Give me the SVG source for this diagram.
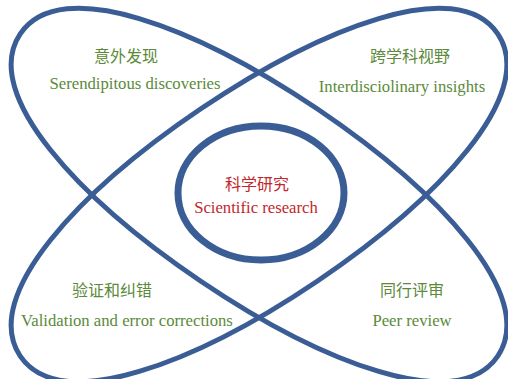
<svg xmlns="http://www.w3.org/2000/svg" width="508" height="379" viewBox="0 0 508 379">
<style>
.loop{fill:none;stroke:#3b5d96;stroke-width:5}
.core{fill:none;stroke:#3b5d96;stroke-width:7}
.zh{font-family:"Noto Sans CJK SC",sans-serif;font-size:16px;text-anchor:middle}
.en{font-family:"Liberation Serif",serif;font-size:16.7px;text-anchor:middle}
.g{fill:#5b8a3a}
.r{fill:#c1272d}
</style>
<defs>
<path id="lobe" d="M-288,0 C-288,-72.8 -144,-104 0,-104 C144,-104 288,-72.8 288,0 C288,72.8 144,104 0,104 C-144,104 -288,72.8 -288,0Z"/>
</defs>
<rect width="508" height="379" fill="#ffffff"/>
<g id="connectors">
<use href="#lobe" class="loop" transform="translate(259 195) rotate(34)"/>
<use href="#lobe" class="loop" transform="translate(259 195) rotate(-34)"/>
</g>
<g id="core">
<ellipse class="core" cx="261" cy="193" rx="83" ry="67"/>
<text class="zh r" x="257" y="190">科学研究</text>
<text class="en r" x="256" y="213">Scientific research</text>
</g>
<g id="serendipity">
<text class="zh g" x="126" y="62">意外发现</text>
<text class="en g" x="135" y="89">Serendipitous discoveries</text>
</g>
<g id="interdisciplinary">
<text class="zh g" x="410" y="62">跨学科视野</text>
<text class="en g" x="402" y="92">Interdisciolinary insights</text>
</g>
<g id="validation">
<text class="zh g" x="112" y="296">验证和纠错</text>
<text class="en g" x="127" y="326">Validation and error corrections</text>
</g>
<g id="peer">
<text class="zh g" x="412" y="296">同行评审</text>
<text class="en g" x="412" y="326">Peer review</text>
</g>
</svg>
